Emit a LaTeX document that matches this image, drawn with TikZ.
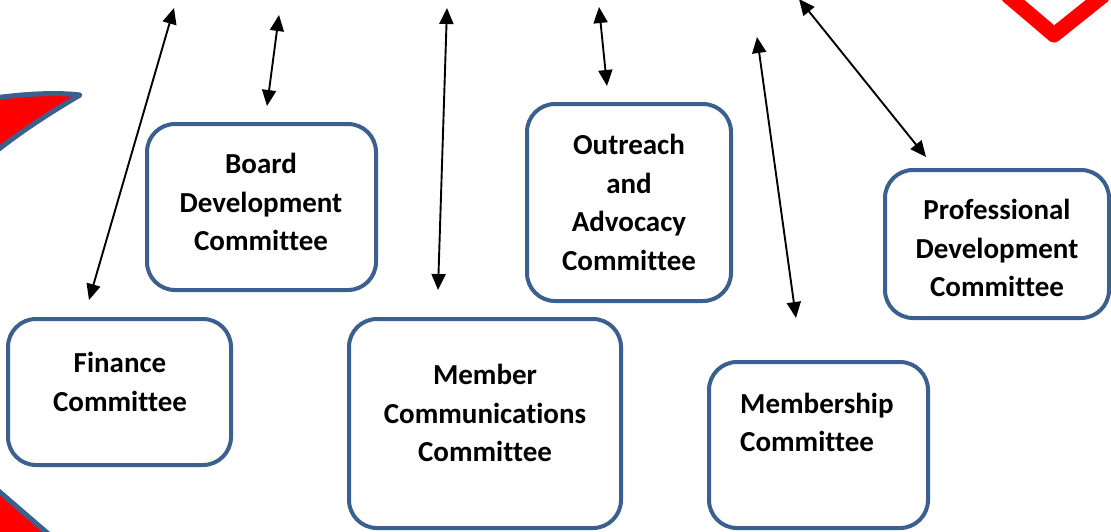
\documentclass[tikz,border=0pt]{standalone}
\usepackage{fontspec}
\setmainfont{Carlito}[RawFeature={-liga;-clig}]
\usetikzlibrary{arrows.meta}
\definecolor{boxblue}{RGB}{60,96,142}
\definecolor{shred}{RGB}{255,0,0}
\tikzset{
  box/.style={draw=boxblue, line width=4pt, rounded corners=28pt, fill=white, inner sep=0pt},
  lbl/.style={font=\bfseries\fontsize{29}{38.5}\selectfont, align=center, inner sep=0pt},
  dbl/.style={line width=1.9pt, {Triangle[length=16pt,width=14pt]}-{Triangle[length=16pt,width=14pt]}},
}
\begin{document}
\begin{tikzpicture}[x=1pt,y=-1pt]
\useasboundingbox (0,0) rectangle (1111,531);
% red decorative shapes
\fill[shred, draw=boxblue, line width=5pt, line join=round]
  (-6,98) .. controls (25,94) and (55,92) .. (80,95)
  .. controls (58,108) and (25,128) .. (-6,153) -- cycle;
\fill[shred, draw=boxblue, line width=5pt]
  (-6,487) -- (52,537) -- (-6,537) -- cycle;
\draw[shred, line width=15pt, line join=round] (1007,-5) -- (1054,35) -- (1104,-5);
% boxes
\node[box, minimum width=223pt, minimum height=146pt] (fin) at (119.5,392) {};
\node[box, minimum width=229pt, minimum height=166pt] (board) at (261.5,207) {};
\node[box, minimum width=272pt, minimum height=209pt] (mcomm) at (485,423.5) {};
\node[box, minimum width=204pt, minimum height=197pt] (outr) at (629,202.5) {};
\node[box, minimum width=219pt, minimum height=166pt] (mship) at (818.5,445) {};
\node[box, minimum width=224pt, minimum height=148pt] (prof) at (997,244) {};
% labels
\node[lbl] (finT) at (120,382) {Finance\\Committee};
\node[lbl] (boardT) at (261,202) {Board\\Development\\Committee};
\node[lbl] (mcommT) at (485,413) {Member\\Communications\\Committee};
\node[lbl] (outrT) at (629,202.5) {Outreach\\and\\Advocacy\\Committee};
\node[lbl, align=left, anchor=west] (mshipT) at (740,422.5) {Membership\\Committee};
\node[lbl] (profT) at (997,248) {Professional\\Development\\Committee};
% arrow ends
\coordinate (a1b) at (89,300); \coordinate (a1t) at (174,8);
\coordinate (a2b) at (267,106); \coordinate (a2t) at (279,15);
\coordinate (a3b) at (438,290); \coordinate (a3t) at (447,8);
\coordinate (a4b) at (607,86); \coordinate (a4t) at (599,7);
\coordinate (a5b) at (796,318); \coordinate (a5t) at (757,37);
\coordinate (a6b) at (926,157); \coordinate (a6t) at (799,-1);
\draw[dbl] (a1b) -- (a1t);
\draw[dbl] (a2b) -- (a2t);
\draw[dbl] (a3b) -- (a3t);
\draw[dbl] (a4b) -- (a4t);
\draw[dbl] (a5b) -- (a5t);
\draw[dbl] (a6b) -- (a6t);
\end{tikzpicture}
\end{document}
